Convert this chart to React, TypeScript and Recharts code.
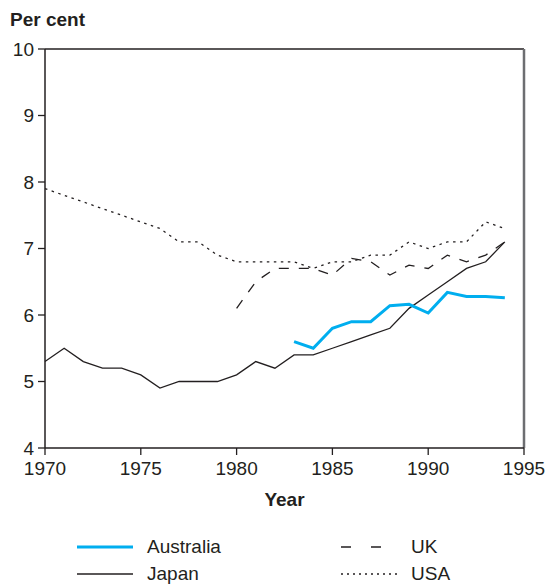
import { LineChart, Line, XAxis, YAxis, ReferenceLine, Legend } from "recharts";

const years = [
  1970, 1971, 1972, 1973, 1974, 1975, 1976, 1977, 1978, 1979, 1980, 1981, 1982,
  1983, 1984, 1985, 1986, 1987, 1988, 1989, 1990, 1991, 1992, 1993, 1994,
];
const australia = [
  null, null, null, null, null, null, null, null, null, null, null, null, null,
  5.6, 5.5, 5.8, 5.9, 5.9, 6.14, 6.16, 6.03, 6.34, 6.28, 6.28, 6.26,
];
const japan = [
  5.3, 5.5, 5.3, 5.2, 5.2, 5.1, 4.9, 5.0, 5.0, 5.0, 5.1, 5.3, 5.2,
  5.4, 5.4, 5.5, 5.6, 5.7, 5.8, 6.1, 6.3, 6.5, 6.7, 6.8, 7.1,
];
const uk = [
  null, null, null, null, null, null, null, null, null, null, 6.1, 6.5, 6.7,
  6.7, 6.7, 6.6, 6.85, 6.8, 6.6, 6.75, 6.7, 6.9, 6.8, 6.9, 7.1,
];
const usa = [
  7.9, 7.8, 7.7, 7.6, 7.5, 7.4, 7.3, 7.1, 7.1, 6.9, 6.8, 6.8, 6.8,
  6.8, 6.7, 6.8, 6.8, 6.9, 6.9, 7.1, 7.0, 7.1, 7.1, 7.4, 7.3,
];
const xTicks = [1970, 1975, 1980, 1985, 1990, 1995];
const yTicks = [4, 5, 6, 7, 8, 9, 10];

const data = years.map((year, i) => ({
  year,
  australia: australia[i],
  japan: japan[i],
  uk: uk[i],
  usa: usa[i],
}));

const ink = "#231f20";
const font = "'Liberation Sans', Arial, sans-serif";

const legendItems = [
  { name: "Australia", stroke: "#00aeef", width: 3, dash: undefined },
  { name: "UK", stroke: ink, width: 1.3, dash: "10 20" },
  { name: "Japan", stroke: ink, width: 1.3, dash: undefined },
  { name: "USA", stroke: ink, width: 1.3, dash: "2 4" },
];

function XTick(props: any) {
  const { x, y, payload } = props;
  return (
    <g>
      <line x1={x} x2={x} y1={y - 1} y2={y - 8} stroke={ink} strokeWidth={1.3} />
      <text x={x} y={y + 19} textAnchor="middle" fontSize={19} fill={ink} fontFamily={font}>
        {payload.value}
      </text>
    </g>
  );
}

function LegendBox() {
  return (
    <div style={{ display: "grid", gridTemplateColumns: "264px 200px", rowGap: 2, fontFamily: font, fontSize: 19, color: ink }}>
      {legendItems.map((it) => (
        <div key={it.name} style={{ display: "flex", alignItems: "center", height: 25 }}>
          <svg width={56} height={10} style={{ marginRight: 14 }}>
            <line x1={0} x2={56} y1={5} y2={5} stroke={it.stroke} strokeWidth={it.width} strokeDasharray={it.dash} />
          </svg>
          <span>{it.name}</span>
        </div>
      ))}
    </div>
  );
}

export default function App() {
  return (
    <div style={{ position: "absolute", left: 0, top: 0, width: 552, height: 584, background: "#fff" }}>
      <div style={{ position: "absolute", left: 10, top: 9, fontFamily: font, fontSize: 19, fontWeight: "bold", color: ink }}>
        Per cent
      </div>
      <LineChart width={552} height={584} data={data} margin={{ top: 49, right: 28, bottom: 0, left: 0 }}>
        <XAxis
          dataKey="year"
          type="number"
          domain={[1970, 1995]}
          ticks={xTicks}
          tick={<XTick />}
          tickLine={false}
          axisLine={{ stroke: ink, strokeWidth: 1.5 }}
          height={84}
          interval={0}
          label={{ value: "Year", position: "insideTop", offset: 45, fontSize: 19, fontWeight: "bold", fill: ink, fontFamily: font }}
        />
        <YAxis
          type="number"
          domain={[4, 10]}
          ticks={yTicks}
          width={45}
          interval={0}
          tickSize={7}
          tickMargin={4}
          tick={{ fontSize: 19, fill: ink, fontFamily: font }}
          tickLine={{ stroke: ink, strokeWidth: 1.3 }}
          axisLine={{ stroke: ink, strokeWidth: 1.5 }}
        />
        <ReferenceLine y={10} stroke={ink} strokeWidth={1.3} />
        <ReferenceLine x={1995} stroke="#6d6e71" strokeWidth={2.5} />
        <Legend
          verticalAlign="bottom"
          align="left"
          content={<LegendBox />}
          wrapperStyle={{ left: 77, top: 534, width: 470 }}
        />
        <Line dataKey="usa" name="USA" stroke={ink} strokeWidth={1.3} strokeDasharray="2.5 4.5" dot={false} isAnimationActive={false} />
        <Line dataKey="uk" name="UK" stroke={ink} strokeWidth={1.3} strokeDasharray="10 10" dot={false} isAnimationActive={false} />
        <Line dataKey="japan" name="Japan" stroke={ink} strokeWidth={1.3} dot={false} isAnimationActive={false} />
        <Line dataKey="australia" name="Australia" stroke="#00aeef" strokeWidth={3} dot={false} isAnimationActive={false} />
      </LineChart>
    </div>
  );
}
